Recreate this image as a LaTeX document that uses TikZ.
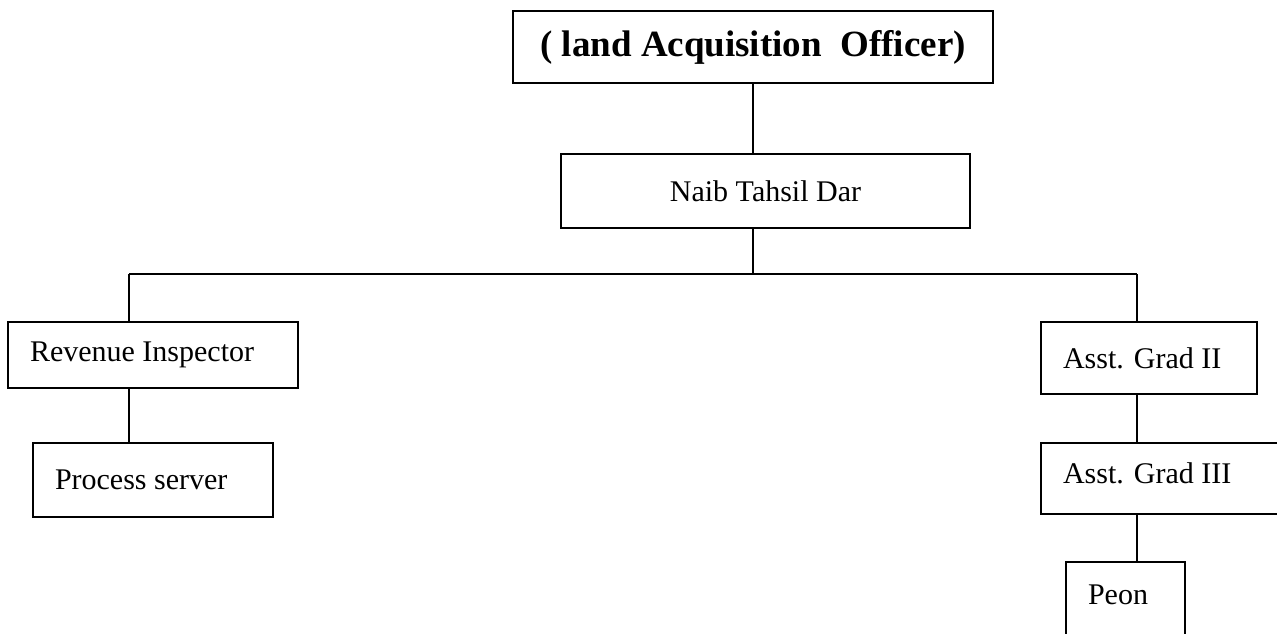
\documentclass[tikz,border=0pt]{standalone}
\usepackage{fontspec}
\setmainfont{Liberation Serif}
\usetikzlibrary{calc}

\begin{document}
\begin{tikzpicture}[
    x=0.5pt, y=-0.5pt,
    post/.style={rectangle, draw=black, line width=0.8pt, inner xsep=11pt, inner ysep=0pt,
                 align=flush left, font=\fontsize{15}{18}\selectfont},
    link/.style={draw=black, line width=0.8pt}
]
\useasboundingbox (0,0) rectangle (1277,633);
\clip (0,0) rectangle (1277,633);
%% top of the office
\node[post, align=center, minimum width=240pt, minimum height=36pt,
      font=\bfseries\fontsize{18.5}{22}\selectfont] (lao) at (753,47)
    {( land Acquisition~ Officer)};
\node[post, align=center, minimum width=204.5pt, minimum height=37pt] (naib) at (765.5,191)
    {Naib Tahsil Dar};
%% left branch
\node[post, text width=123pt, minimum height=33pt] (rev) at (153,355) {Revenue Inspector};
\node[post, text width=98pt, minimum height=37pt] (proc) at (153,480) {Process server};
%% right branch
\node[post, text width=86pt, minimum height=36pt] (ag2) at (1149,358) {Asst. Grad II};
\node[post, text width=102.5pt, minimum height=35.5pt, text depth=5pt] (ag3) at (1165.5,478.5)
    {Asst. Grad III};
\node[post, text width=37.5pt, minimum height=41.5pt, text depth=8.5pt] (peon) at (1125.5,603.5)
    {Peon};
%% bus line and links
\coordinate (bus) at (753,274);
\coordinate (busL) at (129,274);
\coordinate (busR) at (1137,274);
\draw[link] (lao.south) -- (lao.south |- naib.north);
\draw[link] (bus |- naib.south) -- (bus);
\draw[link] (busL) -- (busR);
\draw[link] (busL) -- (busL |- rev.north);
\draw[link] (busR) -- (busR |- ag2.north);
\draw[link] (busL |- rev.south) -- (busL |- proc.north);
\draw[link] (busR |- ag2.south) -- (busR |- ag3.north);
\draw[link] (busR |- ag3.south) -- (busR |- peon.north);
\end{tikzpicture}
\end{document}
